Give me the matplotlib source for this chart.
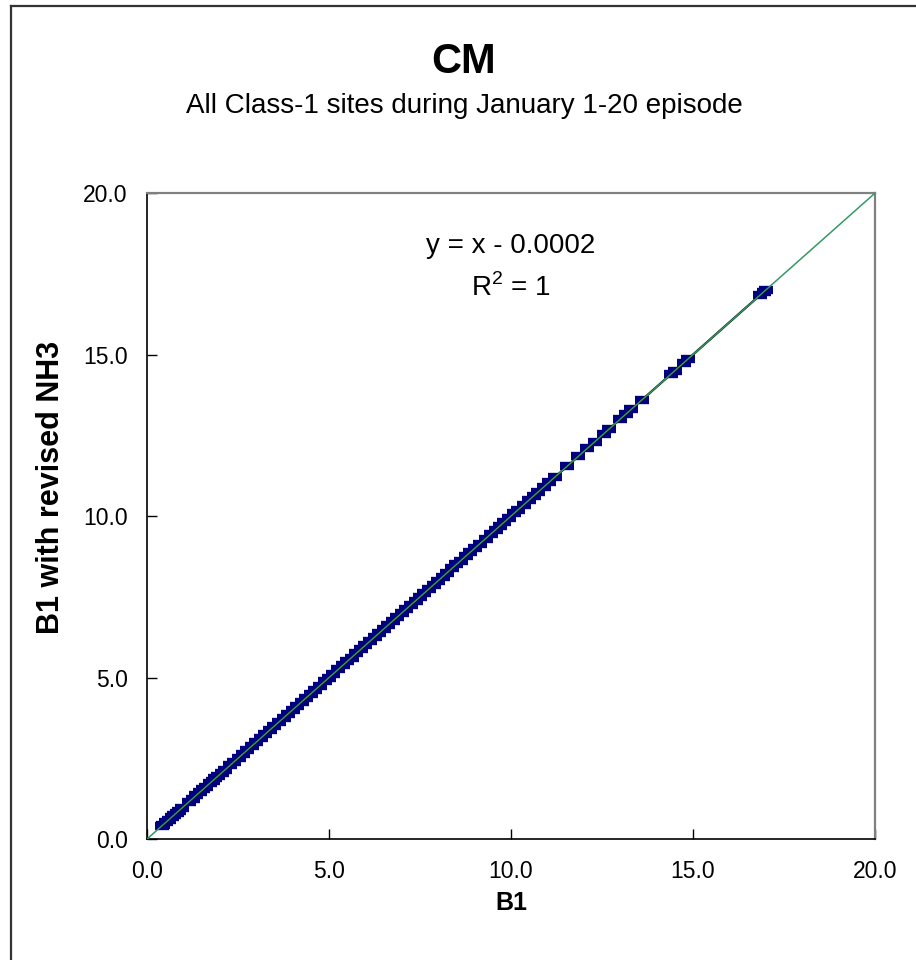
import numpy as np
import matplotlib
matplotlib.use("Agg")
import matplotlib.pyplot as plt
from matplotlib.lines import Line2D

plt.rcParams["font.family"] = ["Liberation Sans", "DejaVu Sans"]
plt.rcParams["mathtext.fontset"] = "custom"
plt.rcParams["mathtext.rm"] = "Liberation Sans"

# B1 (x) vs B1 with revised NH3 (y), all Class-1 sites, Jan 1-20 episode
b1 = [0.40, 0.45, 0.52, 0.60, 0.68, 0.75, 0.82, 0.88, 0.95, 1.15, 1.25, 1.35,
      1.45, 1.55, 1.62, 1.72, 1.80, 1.88, 1.95, 2.05, 2.15, 2.28, 2.40, 2.52,
      2.63, 2.75, 2.88, 3.00, 3.12, 3.25, 3.38, 3.50, 3.62, 3.75, 3.88, 4.00,
      4.12, 4.25, 4.38, 4.50, 4.62, 4.75, 4.88, 5.00, 5.12, 5.25, 5.38, 5.50,
      5.62, 5.75, 5.88, 6.00, 6.12, 6.25, 6.38, 6.50, 6.62, 6.75, 6.88, 7.00,
      7.12, 7.25, 7.38, 7.50, 7.62, 7.75, 7.88, 8.00, 8.12, 8.25, 8.38, 8.50,
      8.62, 8.75, 8.88, 9.00, 9.15, 9.30, 9.45, 9.58, 9.70, 9.82, 9.95, 10.08,
      10.20, 10.35, 10.50, 10.62, 10.75, 10.90, 11.05, 11.20, 11.55, 11.85,
      12.10, 12.30, 12.55, 12.70, 13.00, 13.15, 13.30, 13.60, 14.40, 14.50,
      14.75, 14.85, 16.85, 16.95, 17.00]
b1_nh3 = [0.40, 0.45, 0.52, 0.60, 0.68, 0.75, 0.82, 0.88, 0.95, 1.15, 1.25, 1.35,
          1.45, 1.55, 1.62, 1.72, 1.80, 1.88, 1.95, 2.05, 2.15, 2.28, 2.40, 2.52,
          2.63, 2.75, 2.88, 3.00, 3.12, 3.25, 3.38, 3.50, 3.62, 3.75, 3.88, 4.00,
          4.12, 4.25, 4.38, 4.50, 4.62, 4.75, 4.88, 5.00, 5.12, 5.25, 5.38, 5.50,
          5.62, 5.75, 5.88, 6.00, 6.12, 6.25, 6.38, 6.50, 6.62, 6.75, 6.88, 7.00,
          7.12, 7.25, 7.38, 7.50, 7.62, 7.75, 7.88, 8.00, 8.12, 8.25, 8.38, 8.50,
          8.62, 8.75, 8.88, 9.00, 9.15, 9.30, 9.45, 9.58, 9.70, 9.82, 9.95, 10.08,
          10.20, 10.35, 10.50, 10.62, 10.75, 10.90, 11.05, 11.20, 11.55, 11.85,
          12.10, 12.30, 12.55, 12.70, 13.00, 13.15, 13.30, 13.60, 14.40, 14.50,
          14.75, 14.85, 16.85, 16.95, 17.00]
one_to_one = [0, 20]
ticks = [0, 5, 10, 15, 20]

fig = plt.figure(figsize=(9.16, 9.6), dpi=100)
ax = fig.add_axes([0.1605, 0.126, 0.7948, 0.6729])

# outer chart frame (only left and top edges show)
fig.add_artist(Line2D([0.012, 0.012], [0, 0.9937], transform=fig.transFigure,
                      color="#333333", lw=1.6))
fig.add_artist(Line2D([0.012, 1.0], [0.9937, 0.9937], transform=fig.transFigure,
                      color="#333333", lw=1.6))

ax.plot(b1, b1_nh3, ls="none", marker="_", ms=10, mew=6, color="#000080",
        zorder=2)
slope, icpt = np.polyfit(b1, b1_nh3, 1)
xs = np.array([min(b1), max(b1)])
ax.plot(xs, slope * xs + icpt, color="black", lw=1.6, zorder=3)
ax.plot(one_to_one, one_to_one, color="#339966", lw=1.1, zorder=4)

ax.set_xlim(0, 20)
ax.set_ylim(0, 20)
ax.set_xticks(ticks)
ax.set_yticks(ticks)
ax.set_xticklabels([f"{t:.1f}" for t in ticks])
ax.set_yticklabels([f"{t:.1f}" for t in ticks])
ax.tick_params(direction="in", length=7, width=1, labelsize=16.5, colors="black")
ax.tick_params(axis="x", pad=15)
ax.tick_params(axis="y", pad=14)
for s in ("left", "bottom"):
    ax.spines[s].set_color("black")
    ax.spines[s].set_linewidth(1.2)
for s in ("top", "right"):
    ax.spines[s].set_color("#808080")
    ax.spines[s].set_linewidth(1.6)

ax.set_xlabel("B1", fontsize=18, fontweight="bold", labelpad=6)
fig.text(51 / 916, 1 - 487 / 960, "B1 with revised NH3", rotation=90,
         ha="center", va="center", fontsize=22, fontweight="bold")

ax.text(0.5, 1 - 53 / 646, "y = x - 0.0002", transform=ax.transAxes,
        ha="center", va="center", fontsize=20)
ax.text(0.5, 1 - 95 / 646, r"R$^2$ = 1", transform=ax.transAxes,
        ha="center", va="center", fontsize=20)

fig.text(464 / 916, 1 - 62 / 960, "CM", ha="center", va="center", fontsize=30,
         fontweight="bold")
fig.text(464 / 916, 1 - 106 / 960, "All Class-1 sites during January 1-20 episode",
         ha="center", va="center", fontsize=20)

fig.savefig("out.png", dpi=100)
